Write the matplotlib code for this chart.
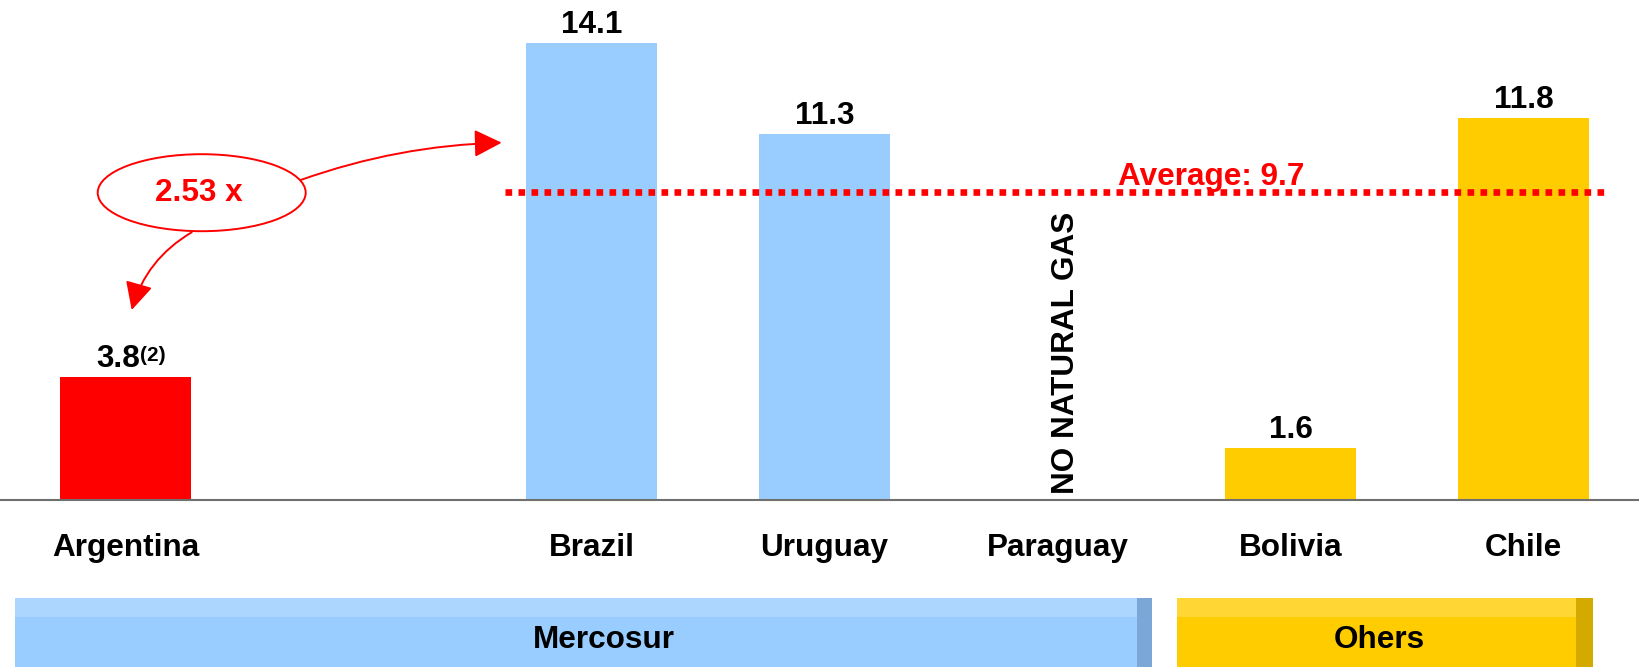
import matplotlib
matplotlib.use("Agg")
import matplotlib.pyplot as plt
from matplotlib.patches import Rectangle, Ellipse, FancyArrowPatch

# ---------------- data ----------------
countries = ["Argentina", "Brazil", "Uruguay", "Paraguay", "Bolivia", "Chile"]
positions = [0, 2, 3, 4, 5, 6]
values = [3.8, 14.1, 11.3, None, 1.6, 11.8]
value_labels = ["3.8", "14.1", "11.3", "", "1.6", "11.8"]
bar_colors = ["#FF0000", "#99CCFF", "#99CCFF", "#99CCFF", "#FFCC00", "#FFCC00"]
footnote = "(2)"
no_data_label = "NO NATURAL GAS"
average_level = 9.5
average_label = "Average: 9.7"
ratio_label = "2.53 x"
group_names = ["Mercosur", "Ohers"]

# ---------------- layout helpers ----------------
W, H = 1640, 667
FONT = "Liberation Sans"
FS = 22.7
plt.rcParams["font.family"] = [FONT, "DejaVu Sans"]

fig = plt.figure(figsize=(W / 100, H / 100), dpi=100)
base_px = 500.0
ax = fig.add_axes([0, 1 - base_px / H, 1, base_px / H])
ppu = 32.4          # pixels per value unit
slot = 233.0        # pixels per category slot
x0 = 125.5          # pixel x of first category
ax.set_ylim(0, base_px / ppu)
ax.set_xlim(-x0 / slot, (W - x0) / slot)


def px2data(px, py):
    return ((px - x0) / slot, (base_px - py) / ppu)


for s in ["top", "left", "right"]:
    ax.spines[s].set_visible(False)
ax.spines["bottom"].set_color("#707070")
ax.spines["bottom"].set_linewidth(1.5)
ax.set_xticks([])
ax.set_yticks([])
ax.patch.set_alpha(0)

# bars
for pos, v, c in zip(positions, values, bar_colors):
    if v is not None:
        ax.bar(pos, v, width=0.56, color=c, zorder=2)

# value labels
for pos, v, lab in zip(positions, values, value_labels):
    if v is None:
        continue
    dx = -5 if pos == 0 else 0
    t = ax.annotate(lab, xy=(pos, v), xytext=(dx, 7.2), textcoords="offset points",
                    ha="center", va="baseline", fontsize=FS, fontweight="bold")
    if pos == 0:
        ax.annotate(footnote, xy=(1, 0.92), xycoords=t, ha="left", va="top",
                    fontsize=15, fontweight="bold")

# no natural gas
ax.text(px2data(1066, 0)[0], px2data(0, 494)[1], no_data_label, rotation=90,
        ha="center", va="bottom", fontsize=FS, fontweight="bold")

# category labels
for pos, name in zip(positions, countries):
    ax.text(pos, px2data(0, 556)[1], name, ha="center", va="baseline",
            fontsize=FS, fontweight="bold", clip_on=False)

# average line
xa0 = px2data(505, 0)[0]
xa1 = px2data(1606, 0)[0]
ax.plot([xa0, xa1], [average_level, average_level], color="#FF0000", lw=4.8,
        linestyle=(0, (1, 0.95)), dash_capstyle="butt", zorder=3)
ax.annotate(average_label, xy=(px2data(1211, 0)[0], average_level), xytext=(0, 5),
            textcoords="offset points", ha="center", va="baseline",
            fontsize=FS, fontweight="bold", color="#FF0000")

# ellipse with ratio
ec = px2data(201.7, 192.7)
ax.add_patch(Ellipse(ec, 208 / slot, 77 / ppu, facecolor="white", edgecolor="#FF0000",
                     lw=1.4, zorder=4))
ax.text(px2data(199, 0)[0], px2data(0, 201)[1], ratio_label, ha="center", va="baseline",
        fontsize=FS, fontweight="bold", color="#FF0000", zorder=5)

arrow_kw = dict(arrowstyle="-|>,head_length=17,head_width=8.5", mutation_scale=1,
                color="#FF0000", lw=1.4, shrinkA=0, shrinkB=0, zorder=4)
ax.add_patch(FancyArrowPatch(px2data(300.7, 180), px2data(501.7, 142.7),
                             connectionstyle="arc3,rad=-0.08", **arrow_kw))
ax.add_patch(FancyArrowPatch(px2data(191.7, 232.3), px2data(131.7, 310),
                             connectionstyle="arc3,rad=0.2", **arrow_kw))


# group bands (figure pixel coordinates)
def band(x1, x2, y1, y2, color):
    fig.add_artist(Rectangle((x1 / W, 1 - y2 / H), (x2 - x1) / W, (y2 - y1) / H,
                             transform=fig.transFigure, facecolor=color,
                             edgecolor="none", lw=0))


band(14.6, 1137, 598, 667, "#99CCFF")
band(14.6, 1137, 598, 617, "#ADD6FF")
band(1137, 1152, 598, 667, "#7BA7D6")
band(1177, 1576, 598, 667, "#FFCC00")
band(1177, 1576, 598, 617, "#FFD633")
band(1576, 1593, 598, 667, "#D4AA00")

for name, cx in zip(group_names, [604, 1379]):
    fig.text(cx / W, 1 - 647.7 / H, name, ha="center", va="baseline",
             fontsize=FS, fontweight="bold")

fig.savefig("out.png", dpi=100)
